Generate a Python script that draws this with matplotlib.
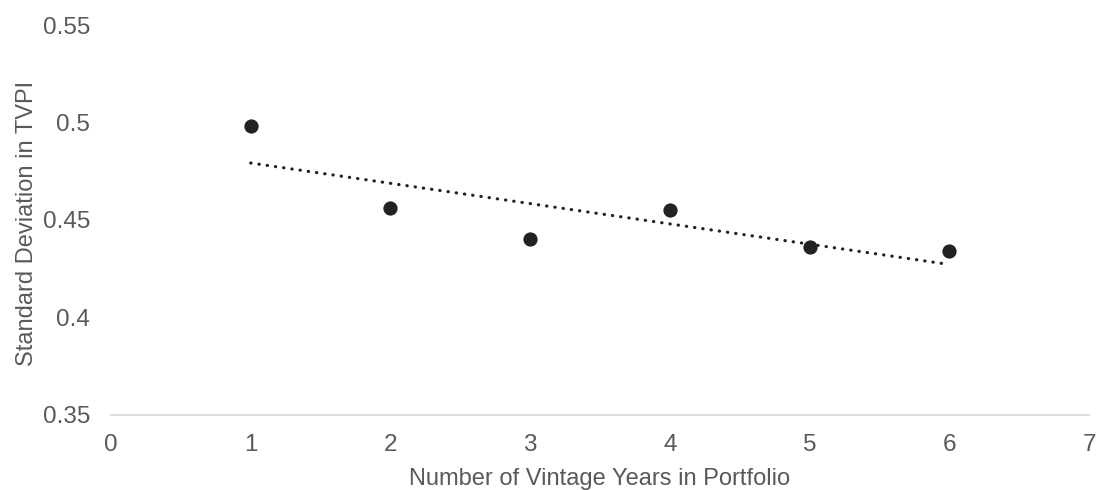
import numpy as np
import matplotlib
matplotlib.use("Agg")
import matplotlib.pyplot as plt

# ── Data ──────────────────────────────────────────────────────────────────────
vintage_years = [1, 2, 3, 4, 5, 6]
std_tvpi = [0.498, 0.456, 0.440, 0.455, 0.436, 0.434]

x_ticks = [0, 1, 2, 3, 4, 5, 6, 7]
y_ticks = [0.35, 0.4, 0.45, 0.5, 0.55]
y_tick_labels = ["0.35", "0.4", "0.45", "0.5", "0.55"]

# ── Style ─────────────────────────────────────────────────────────────────────
plt.rcParams["font.family"] = ["Liberation Sans", "DejaVu Sans"]
TEXT = "#595959"
AXIS = "#d9d9d9"
MARK = "#222222"

fig = plt.figure(figsize=(10.96, 4.9), dpi=100, facecolor="white")
ax = fig.add_axes([111 / 1096, 1 - 414.5 / 490, 978 / 1096, 389.2 / 490])

ax.scatter(vintage_years, std_tvpi, s=105, color=MARK, zorder=3, linewidths=0)

# linear trendline (least squares, like Excel)
slope, intercept = np.polyfit(vintage_years, std_tvpi, 1)
xt = np.array([min(vintage_years), max(vintage_years) - 0.04])
ax.plot(xt, slope * xt + intercept, color=MARK, lw=2.3,
        linestyle=(0, (0.1, 2.5)), dash_capstyle="round", zorder=2)

ax.set_xlim(0, 7)
ax.set_ylim(0.35, 0.55)
ax.set_xticks(x_ticks)
ax.set_yticks(y_ticks)
ax.set_yticklabels(y_tick_labels)

for side in ["top", "right", "left"]:
    ax.spines[side].set_visible(False)
ax.spines["bottom"].set_color(AXIS)
ax.spines["bottom"].set_linewidth(1.3)

ax.tick_params(length=0, labelsize=17.5, colors=TEXT)
ax.tick_params(axis="x", pad=14)
ax.tick_params(axis="y", pad=15)

ax.set_xlabel("Number of Vintage Years in Portfolio", fontsize=17, color=TEXT, labelpad=9)
ax.set_ylabel("Standard Deviation in TVPI", fontsize=17, color=TEXT)
ax.yaxis.set_label_coords(-0.075, 0.49)

fig.savefig("out.png", dpi=100, facecolor="white")
